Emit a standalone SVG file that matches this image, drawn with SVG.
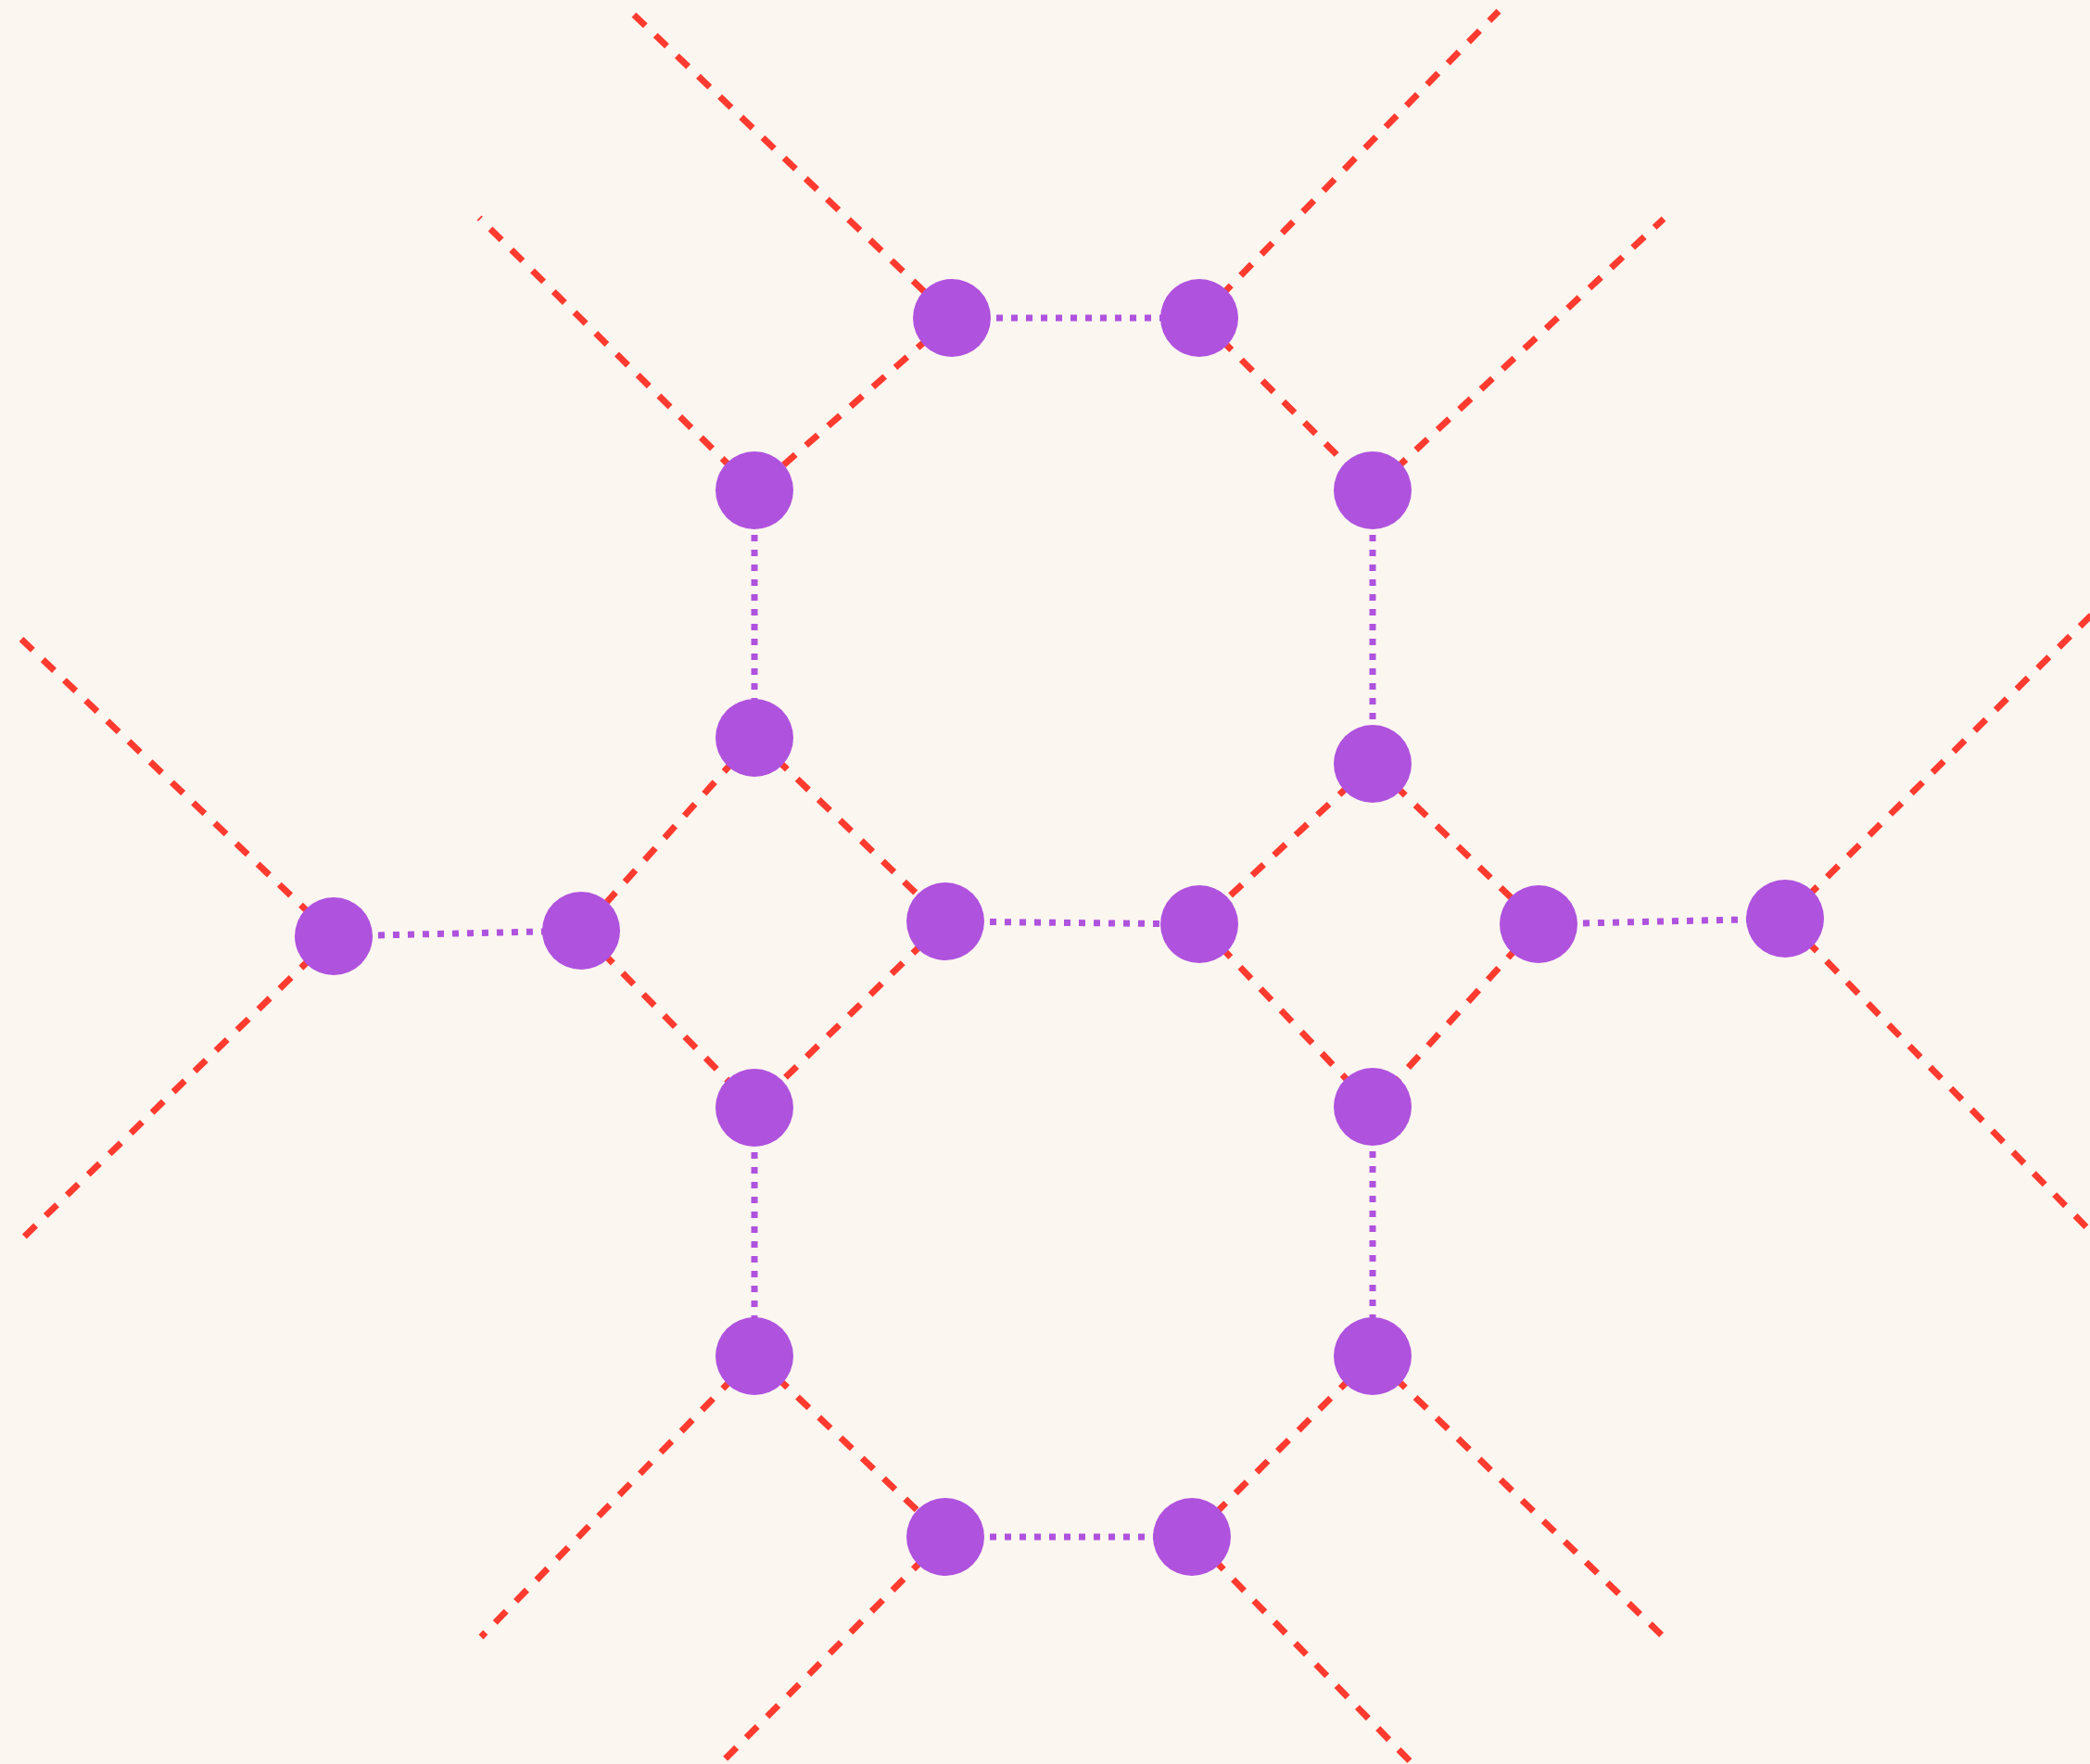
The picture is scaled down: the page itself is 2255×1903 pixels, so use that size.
<svg xmlns="http://www.w3.org/2000/svg" width="2255" height="1903" viewBox="0 0 2255 1903">
<style>
.r{stroke:#ff3b30;stroke-width:7;stroke-dasharray:17 15;fill:none}
.p{stroke:#af52de;stroke-width:7;stroke-dasharray:7 9;fill:none}
.n{fill:#af52de}
</style>
<rect width="2255" height="1903" fill="#fcf6f0"/>
<g id="connectors">
<line class="r" x1="684" y1="16" x2="1027" y2="343"/>
<line class="r" x1="1294" y1="343" x2="1617" y2="12"/>
<line class="r" x1="814" y1="529" x2="517" y2="235"/>
<line class="r" x1="1481" y1="529" x2="1795" y2="236"/>
<line class="r" x1="360" y1="1010" x2="14" y2="681"/>
<line class="r" x1="360" y1="1010" x2="18" y2="1342"/>
<line class="r" x1="1926" y1="991" x2="2262" y2="658"/>
<line class="r" x1="1926" y1="991" x2="2262" y2="1335"/>
<line class="r" x1="814" y1="1463" x2="519" y2="1766"/>
<line class="r" x1="1481" y1="1463" x2="1794" y2="1765"/>
<line class="r" x1="1020" y1="1658" x2="772" y2="1908"/>
<line class="r" x1="1286" y1="1658" x2="1529" y2="1908"/>
<line class="r" x1="1027" y1="343" x2="814" y2="529"/>
<line class="r" x1="1294" y1="343" x2="1481" y2="529"/>
<line class="r" x1="814" y1="796" x2="627" y2="1004"/>
<line class="r" x1="814" y1="796" x2="1020" y2="994"/>
<line class="r" x1="627" y1="1004" x2="814" y2="1195"/>
<line class="r" x1="1020" y1="994" x2="814" y2="1195"/>
<line class="r" x1="1481" y1="824" x2="1294" y2="997"/>
<line class="r" x1="1481" y1="824" x2="1660" y2="997"/>
<line class="r" x1="1294" y1="997" x2="1481" y2="1194"/>
<line class="r" x1="1660" y1="997" x2="1481" y2="1194"/>
<line class="r" x1="814" y1="1463" x2="1020" y2="1658"/>
<line class="r" x1="1481" y1="1463" x2="1286" y2="1658"/>
<line class="p" x1="1027" y1="343" x2="1294" y2="343"/>
<line class="p" x1="814" y1="529" x2="814" y2="796"/>
<line class="p" x1="1481" y1="529" x2="1481" y2="824"/>
<line class="p" x1="360" y1="1010" x2="627" y2="1004"/>
<line class="p" x1="1020" y1="994" x2="1294" y2="997"/>
<line class="p" x1="1660" y1="997" x2="1926" y2="991"/>
<line class="p" x1="814" y1="1195" x2="814" y2="1463"/>
<line class="p" x1="1481" y1="1194" x2="1481" y2="1463"/>
<line class="p" x1="1020" y1="1658" x2="1286" y2="1658"/>
</g>
<g id="nA"><circle class="n" cx="1027" cy="343" r="42"/></g>
<g id="nB"><circle class="n" cx="1294" cy="343" r="42"/></g>
<g id="nC"><circle class="n" cx="814" cy="529" r="42"/></g>
<g id="nD"><circle class="n" cx="1481" cy="529" r="42"/></g>
<g id="nE"><circle class="n" cx="814" cy="796" r="42"/></g>
<g id="nF"><circle class="n" cx="1481" cy="824" r="42"/></g>
<g id="nG"><circle class="n" cx="360" cy="1010" r="42"/></g>
<g id="nH"><circle class="n" cx="627" cy="1004" r="42"/></g>
<g id="nI"><circle class="n" cx="1020" cy="994" r="42"/></g>
<g id="nJ"><circle class="n" cx="1294" cy="997" r="42"/></g>
<g id="nK"><circle class="n" cx="1660" cy="997" r="42"/></g>
<g id="nL"><circle class="n" cx="1926" cy="991" r="42"/></g>
<g id="nM"><circle class="n" cx="814" cy="1195" r="42"/></g>
<g id="nN"><circle class="n" cx="1481" cy="1194" r="42"/></g>
<g id="nO"><circle class="n" cx="814" cy="1463" r="42"/></g>
<g id="nP"><circle class="n" cx="1481" cy="1463" r="42"/></g>
<g id="nQ"><circle class="n" cx="1020" cy="1658" r="42"/></g>
<g id="nR"><circle class="n" cx="1286" cy="1658" r="42"/></g>
</svg>
